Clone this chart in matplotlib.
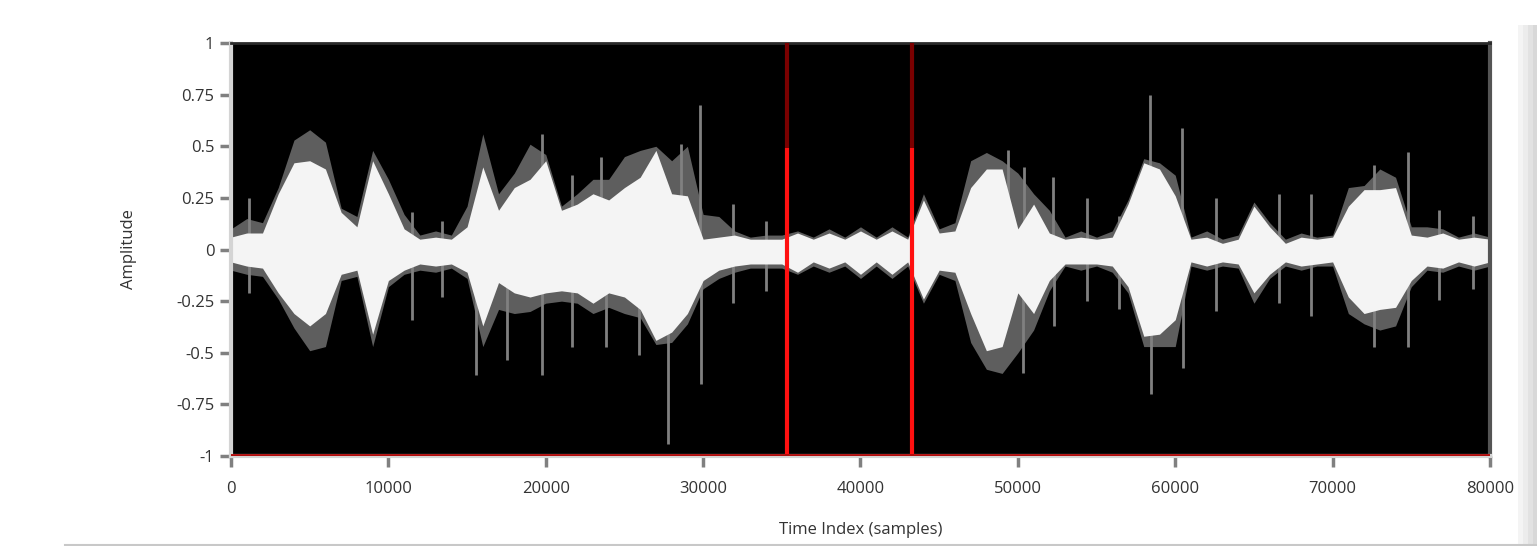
"""Waveform view: amplitude vs time index, with two cursor lines."""

import matplotlib.pyplot as plt
import numpy as np
from matplotlib.patches import Rectangle

plt.rcParams["font.family"] = ["Open Sans", "DejaVu Sans"]
plt.rcParams["axes.unicode_minus"] = False

# envelope, one value every 1000 samples (0..80000)
env_x = list(range(0, 80001, 1000))
core_hi = [0.06, 0.08, 0.08, 0.27, 0.42, 0.43, 0.39, 0.18, 0.11, 0.43,
           0.27, 0.10, 0.05, 0.06, 0.05, 0.11, 0.40, 0.19, 0.30, 0.34,
           0.43, 0.19, 0.22, 0.27, 0.24, 0.30, 0.35, 0.48, 0.27, 0.26,
           0.05, 0.06, 0.07, 0.05, 0.05, 0.05, 0.08, 0.05, 0.08, 0.05,
           0.09, 0.05, 0.09, 0.05, 0.24, 0.08, 0.09, 0.30, 0.39, 0.39,
           0.10, 0.22, 0.08, 0.05, 0.06, 0.05, 0.06, 0.22, 0.42, 0.39,
           0.26, 0.05, 0.06, 0.03, 0.05, 0.21, 0.11, 0.03, 0.06, 0.05,
           0.06, 0.21, 0.29, 0.29, 0.30, 0.07, 0.06, 0.08, 0.05, 0.06,
           0.05]
core_lo = [-0.06, -0.08, -0.09, -0.21, -0.31, -0.37, -0.31, -0.12, -0.10, -0.41,
           -0.15, -0.10, -0.07, -0.08, -0.07, -0.11, -0.37, -0.16, -0.21, -0.23,
           -0.21, -0.20, -0.21, -0.26, -0.21, -0.23, -0.29, -0.44, -0.40, -0.31,
           -0.15, -0.10, -0.08, -0.07, -0.07, -0.07, -0.11, -0.06, -0.09, -0.06,
           -0.12, -0.06, -0.12, -0.06, -0.24, -0.10, -0.11, -0.31, -0.49, -0.47,
           -0.21, -0.31, -0.15, -0.07, -0.07, -0.07, -0.08, -0.18, -0.42, -0.41,
           -0.34, -0.06, -0.08, -0.06, -0.07, -0.21, -0.12, -0.06, -0.08, -0.07,
           -0.06, -0.23, -0.31, -0.29, -0.28, -0.15, -0.08, -0.09, -0.06, -0.08,
           -0.06]
outer_hi = [0.10, 0.15, 0.13, 0.30, 0.53, 0.58, 0.52, 0.20, 0.16, 0.48,
            0.34, 0.17, 0.07, 0.09, 0.07, 0.21, 0.56, 0.27, 0.37, 0.51,
            0.46, 0.21, 0.27, 0.34, 0.34, 0.45, 0.48, 0.50, 0.43, 0.50,
            0.17, 0.16, 0.09, 0.06, 0.07, 0.07, 0.09, 0.06, 0.10, 0.06,
            0.11, 0.06, 0.11, 0.06, 0.27, 0.10, 0.13, 0.43, 0.47, 0.43,
            0.37, 0.27, 0.19, 0.06, 0.09, 0.06, 0.09, 0.24, 0.44, 0.42,
            0.36, 0.06, 0.09, 0.05, 0.07, 0.23, 0.13, 0.05, 0.08, 0.06,
            0.07, 0.30, 0.31, 0.39, 0.35, 0.11, 0.11, 0.10, 0.06, 0.08,
            0.06]
outer_lo = [-0.10, -0.12, -0.13, -0.24, -0.38, -0.49, -0.47, -0.15, -0.13, -0.47,
            -0.18, -0.12, -0.10, -0.11, -0.09, -0.14, -0.47, -0.29, -0.31, -0.30,
            -0.26, -0.25, -0.26, -0.31, -0.28, -0.31, -0.33, -0.46, -0.45, -0.36,
            -0.19, -0.14, -0.11, -0.09, -0.09, -0.09, -0.12, -0.08, -0.11, -0.08,
            -0.14, -0.08, -0.14, -0.08, -0.26, -0.12, -0.15, -0.45, -0.58, -0.60,
            -0.50, -0.39, -0.20, -0.08, -0.10, -0.08, -0.11, -0.21, -0.47, -0.47,
            -0.47, -0.08, -0.10, -0.08, -0.09, -0.26, -0.14, -0.08, -0.10, -0.08,
            -0.08, -0.31, -0.36, -0.39, -0.37, -0.18, -0.10, -0.11, -0.08, -0.10,
            -0.08]

# isolated peaks sticking out of the envelope
spike_up_x = [1150, 11500, 13400, 19770, 21680, 23480, 28620, 29800, 31900,
              33990, 49390, 50400, 52260, 54390, 56410, 58420, 60440, 62560,
              66570, 68610, 72620, 74760, 76760, 78900]
spike_up_y = [0.25, 0.18, 0.14, 0.56, 0.36, 0.45, 0.51, 0.70, 0.22,
              0.14, 0.48, 0.40, 0.35, 0.25, 0.16, 0.75, 0.59, 0.25,
              0.27, 0.27, 0.41, 0.47, 0.19, 0.16]
spike_dn_x = [1150, 11500, 13400, 15550, 17560, 19740, 21680, 23800, 25900,
              27800, 29890, 31900, 33990, 50350, 52300, 54390, 56410, 58450,
              60500, 62560, 66570, 68610, 72650, 74800, 76760, 78900]
spike_dn_y = [-0.21, -0.34, -0.23, -0.61, -0.535, -0.61, -0.47, -0.47, -0.51,
              -0.94, -0.65, -0.26, -0.20, -0.60, -0.37, -0.25, -0.29, -0.70,
              -0.575, -0.30, -0.26, -0.32, -0.47, -0.47, -0.245, -0.19]

cursors = [35350, 43250]
cursor_split = 0.49  # cursor line is dark above this amplitude

y_ticks = [1, 0.75, 0.5, 0.25, 0, -0.25, -0.5, -0.75, -1]
y_tick_labels = ["1", "0.75", "0.5", "0.25", "0", "-0.25", "-0.5", "-0.75", "-1"]
x_ticks = list(range(0, 80001, 10000))

fig = plt.figure(figsize=(15.37, 5.46), dpi=100)
ax = fig.add_axes([0.1503, 0.1648, 0.8191, 0.7564])
ax.set_facecolor("black")

ax.fill_between(env_x, outer_lo, outer_hi, color="#5e5e5e", lw=0, zorder=1)
ax.vlines(spike_up_x, 0, spike_up_y, color="#808080", lw=2, zorder=1.5)
ax.vlines(spike_dn_x, spike_dn_y, 0, color="#808080", lw=2, zorder=1.5)
ax.fill_between(env_x, core_lo, core_hi, color="#f4f4f4", lw=0, zorder=2)

for cx in cursors:
    ax.vlines(cx, cursor_split, 1, color="#7a0000", lw=3, zorder=3)
    ax.vlines(cx, -1, cursor_split, color="#ff1010", lw=3, zorder=3)
ax.axhline(-1, color="#b00d0d", lw=3.5, zorder=4)

ax.set_xlim(0, 80000)
ax.set_ylim(-1, 1)
ax.set_yticks(y_ticks)
ax.set_yticklabels(y_tick_labels)
ax.set_xticks(x_ticks)
ax.set_xticklabels([str(t) for t in x_ticks])
ax.tick_params(axis="both", colors="#808080", labelcolor="#333333",
               labelsize=12, length=8, width=2.5)
ax.tick_params(axis="y", pad=4)
ax.tick_params(axis="x", pad=10)

for side, col, lw in [("left", "#d4d4d4", 3), ("bottom", "#d4d4d4", 3),
                      ("top", "#2a2a2a", 2), ("right", "#555555", 3)]:
    ax.spines[side].set_color(col)
    ax.spines[side].set_linewidth(lw)

ax.set_xlabel("Time Index (samples)", fontsize=12, color="#333333", labelpad=18)
ax.set_ylabel("Amplitude", fontsize=12, color="#333333", labelpad=28)

# window chrome on the right edge and the bottom rule
for i, c in enumerate(["#f4f4f4", "#ececec", "#e2e2e2", "#d8d8d8"]):
    fig.patches.append(Rectangle((1518 / 1537 + i * 5 / 1537, 0), 5 / 1537, 521 / 546,
                                 transform=fig.transFigure, color=c, lw=0))
fig.add_artist(plt.Line2D([65 / 1537, 1], [1.5 / 546, 1.5 / 546],
                          transform=fig.transFigure, color="#c8c8c8", lw=1.5))

fig.savefig("out.png", dpi=100)
